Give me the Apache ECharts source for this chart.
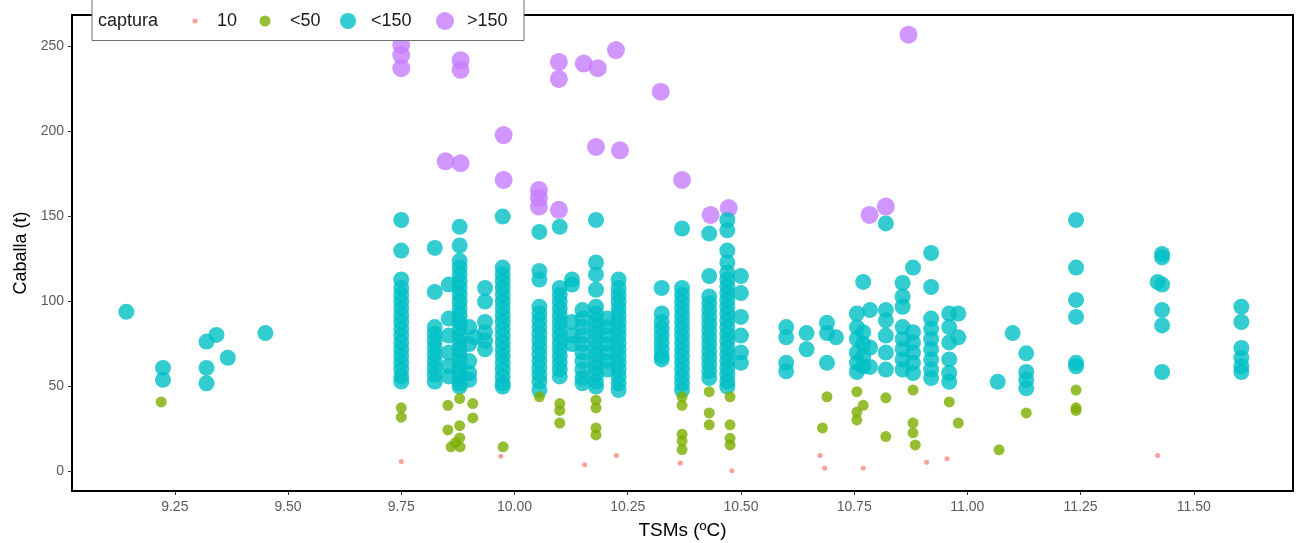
<!DOCTYPE html>
<html><head><meta charset="utf-8">
<script src="https://cdn.jsdelivr.net/npm/echarts@6/dist/echarts.min.js"></script>
<style>html,body{margin:0;padding:0;background:#fff}#c{width:1298px;height:543px}</style>
</head><body><div id="c"></div>
<script>
const categories = ['10', '<50', '<150', '>150'];
const xTicks = [9.25, 9.5, 9.75, 10.0, 10.25, 10.5, 10.75, 11.0, 11.25, 11.5];
const yTicks = [0, 50, 100, 150, 200, 250];

// captura = 10
const pts10 = [[9.75,6],[9.97,9],[10.155,4],[10.225,9.5],[10.366,5],[10.48,0.5],[10.675,9.5],[10.685,2],[10.77,2],[10.91,5.5],[10.955,7.5],[11.42,9.5]];

// captura < 50
const pts50 = [[9.22,41],[9.75,37.5],[9.75,32],
 [9.853,39],[9.879,43],[9.908,40],[9.908,31.6],[9.853,24.5],[9.879,27],[9.879,19.8],[9.86,14.6],[9.88,14.6],[9.87,17],
 [9.975,14.6],[10.055,44],[10.10,40],[10.10,36],[10.10,28.6],
 [10.18,42],[10.18,37.5],[10.18,25.7],[10.18,21.6],
 [10.37,44],[10.37,39],[10.37,22],[10.37,18],[10.37,13],
 [10.43,47],[10.43,34.5],[10.43,27.5],
 [10.476,44],[10.476,27.5],[10.476,19.6],[10.476,15.7],
 [10.69,44],[10.68,25.7],[10.756,47],[10.756,35],[10.756,30.4],[10.77,39],
 [10.82,43.4],[10.82,20.6],[10.88,48],[10.88,28.6],[10.88,22.8],[10.885,15.7],
 [10.96,41],[10.98,28.6],[11.07,12.8],[11.13,34.5],[11.24,48],[11.24,37.5],[11.24,36]];

// captura < 150
const pts150 = [[9.143,94],[9.224,61],[9.224,54],[9.32,76.5],[9.32,61],[9.32,52],[9.342,80.4],[9.367,67],[9.45,81.5],
 [9.75,148],[9.75,130],[9.75,113],[9.75,108],[9.75,104],[9.75,100],[9.75,96],[9.75,92],[9.75,88],[9.75,84],[9.75,80],[9.75,76],[9.75,72],[9.75,68],[9.75,64],[9.75,60],[9.75,56],[9.75,53],
 [9.824,131.6],[9.824,105.7],[9.824,85],[9.824,81],[9.824,77],[9.824,73],[9.824,69],[9.824,65],[9.824,61],[9.824,57],[9.824,53],
 [9.855,110],[9.855,90],[9.855,80],[9.855,70],[9.855,62],[9.855,56],
 [9.879,144],[9.879,133],[9.879,124],[9.879,120],[9.879,116],[9.879,112],[9.879,108],[9.879,104],[9.879,100],[9.879,96],[9.879,92],[9.879,88],[9.879,84],[9.879,80],[9.879,76],[9.879,72],[9.879,68],[9.879,64],[9.879,60],[9.879,56],[9.879,52],[9.879,50],
 [9.90,85],[9.90,75],[9.90,65],[9.90,58],[9.90,54],[9.912,79],
 [9.935,108],[9.935,100],[9.935,88],[9.935,82],[9.935,77],[9.935,72],
 [9.974,150],[9.974,120],[9.974,116],[9.974,112],[9.974,108],[9.974,104],[9.974,100],[9.974,96],[9.974,92],[9.974,88],[9.974,84],[9.974,80],[9.974,76],[9.974,72],[9.974,68],[9.974,64],[9.974,60],[9.974,56],[9.974,52],[9.974,50],
 [10.055,141],[10.055,118],[10.055,113],[10.055,97],[10.055,93],[10.055,89],[10.055,85],[10.055,81],[10.055,77],[10.055,73],[10.055,69],[10.055,65],[10.055,61],[10.055,57],[10.055,53],[10.055,48],
 [10.10,144],[10.10,108],[10.10,104],[10.10,100],[10.10,96],[10.10,92],[10.10,88],[10.10,84],[10.10,80],[10.10,76],[10.10,72],[10.10,68],[10.10,64],[10.10,60],[10.10,56],
 [10.127,113],[10.127,110],[10.127,88],[10.127,80],[10.127,75],
 [10.15,95],[10.15,90],[10.15,85],[10.15,80],[10.15,75],[10.15,70],[10.15,65],[10.15,60],[10.15,55],[10.15,52],
 [10.18,148],[10.18,123],[10.18,116],[10.18,107],[10.18,97],[10.18,93],[10.18,89],[10.18,85],[10.18,81],[10.18,77],[10.18,73],[10.18,69],[10.18,65],[10.18,61],[10.18,57],[10.18,53],[10.18,50],
 [10.205,90],[10.205,85],[10.205,80],[10.205,75],[10.205,70],[10.205,65],[10.205,60],
 [10.23,113],[10.23,108],[10.23,104],[10.23,100],[10.23,96],[10.23,92],[10.23,88],[10.23,84],[10.23,80],[10.23,76],[10.23,72],[10.23,68],[10.23,64],[10.23,60],[10.23,56],[10.23,52],[10.23,48],
 [10.325,108],[10.325,93],[10.325,88],[10.325,84],[10.325,80],[10.325,76],[10.325,72],[10.325,68],[10.325,66],
 [10.37,143],[10.37,108],[10.37,104],[10.37,100],[10.37,96],[10.37,92],[10.37,88],[10.37,84],[10.37,80],[10.37,76],[10.37,72],[10.37,68],[10.37,64],[10.37,60],[10.37,56],[10.37,52],[10.37,48],
 [10.43,140],[10.43,115],[10.43,103],[10.43,99],[10.43,95],[10.43,91],[10.43,87],[10.43,83],[10.43,79],[10.43,75],[10.43,71],[10.43,67],[10.43,63],[10.43,59],[10.43,55],
 [10.47,148],[10.47,142],[10.47,130],[10.47,123],[10.47,117],[10.47,113],[10.47,109],[10.47,105],[10.47,101],[10.47,97],[10.47,93],[10.47,89],[10.47,85],[10.47,81],[10.47,77],[10.47,73],[10.47,69],[10.47,65],[10.47,61],[10.47,57],[10.47,53],[10.47,50],
 [10.50,115],[10.50,105],[10.50,91],[10.50,80],[10.50,70],[10.50,64],
 [10.60,85],[10.60,79],[10.60,64],[10.60,59],[10.645,81.5],[10.645,72],
 [10.69,87.5],[10.69,81.5],[10.69,64],[10.71,79],
 [10.756,93],[10.756,85],[10.756,78],[10.756,70],[10.756,64],[10.756,58.6],
 [10.77,111.6],[10.77,82],[10.77,75],[10.77,68],[10.77,62],[10.785,95],[10.785,73],[10.785,61.6],
 [10.82,146],[10.82,95],[10.82,89],[10.82,80],[10.82,70],[10.82,60],
 [10.857,111],[10.857,103],[10.857,97],[10.857,85],[10.857,78],[10.857,72],[10.857,66],[10.857,60],
 [10.88,120],[10.88,82],[10.88,76],[10.88,70],[10.88,64],[10.88,58],
 [10.92,128.6],[10.92,108.6],[10.92,90],[10.92,84],[10.92,78],[10.92,72],[10.92,66],[10.92,60],[10.92,55],
 [10.96,93],[10.96,85],[10.96,76],[10.96,66],[10.96,58],[10.96,52.8],[10.98,93],[10.98,79],
 [11.067,52.8],[11.10,81.5],[11.13,69.6],[11.13,58.6],[11.13,54],[11.13,49],
 [11.24,148],[11.24,120],[11.24,101],[11.24,91],[11.24,64],[11.24,62],
 [11.42,111.5],[11.43,128],[11.43,126],[11.43,110],[11.43,95],[11.43,86],[11.43,58.6],
 [11.605,97],[11.605,88],[11.605,72.7],[11.605,67],[11.605,62],[11.605,58.6]];

// captura > 150
const ptsOver = [[9.75,251],[9.75,245],[9.75,237.3],[9.881,242],[9.881,236.3],
 [10.098,241],[10.098,231],[10.153,240],[10.184,237.3],[10.224,248],[10.323,223.5],[10.87,257],
 [9.976,198],[9.848,182.5],[9.881,181.4],[10.18,191],[10.233,189],[9.976,171.6],[10.37,171.6],
 [10.054,165.7],[10.054,160.9],[10.054,155.9],[10.098,154],[10.433,151],[10.473,155],[10.784,151],[10.82,155.9]];

const colors = ['#F8766D', '#7CAE00', '#00BFC4', '#C77CFF'];
const sizes = [5, 11, 16, 18];
const FONT = '"Liberation Sans", Arial, sans-serif';

const chart = echarts.init(document.getElementById('c'), null, {renderer: 'canvas'});

const dataSets = [pts10, pts50, pts150, ptsOver];
const drawOrder = [3, 2, 1, 0];
const series = drawOrder.map(i => ({
  name: categories[i], type: 'scatter', data: dataSets[i],
  symbol: 'circle', symbolSize: sizes[i], z: 2 + (3 - i),
  itemStyle: {color: colors[i], opacity: i === 0 ? 0.7 : 0.8},
  emphasis: {disabled: true}
}));

const legendLefts = [192.5, 259.5, 340, 436];
const textPads = [14.5, 14.5, 10, 8];
const legends = categories.map((c, i) => ({
  data: [{name: c, icon: 'circle'}],
  left: legendLefts[i], top: 11, padding: 0,
  itemWidth: sizes[i], itemHeight: sizes[i], z: 12,
  selectedMode: false,
  textStyle: {fontFamily: FONT, fontSize: 18, color: '#1a1a1a', lineHeight: 20, padding: [0, 0, 0, textPads[i]]}
}));

chart.setOption({
  animation: false,
  backgroundColor: '#fff',
  grid: {left: 72, right: 5, top: 15, bottom: 52, show: true, borderColor: '#000', borderWidth: 2,
         containLabel: false, outerBoundsMode: 'none'},
  legend: legends,
  graphic: [
    {type: 'rect', z: 10, shape: {x: 92, y: -5, width: 432, height: 45.5}, style: {fill: '#fff', stroke: '#6e6e6e', lineWidth: 1}},
    {type: 'text', z: 11, x: 98, y: 21, style: {text: 'captura', font: '18px ' + FONT, fill: '#1a1a1a', textVerticalAlign: 'middle'}}
  ],
  xAxis: {
    type: 'value', min: 9.023, max: 11.719,
    name: 'TSMs (ºC)', nameLocation: 'middle', nameGap: 30,
    nameTextStyle: {fontFamily: FONT, fontSize: 19, color: '#000'},
    axisLine: {show: true, onZero: false, lineStyle: {color: '#000', width: 2}},
    axisTick: {show: true, customValues: xTicks, length: 4, lineStyle: {color: '#333'}},
    axisLabel: {customValues: xTicks, margin: 9, fontFamily: FONT, fontSize: 14, color: '#5a5a5a', formatter: v => v.toFixed(2)},
    splitLine: {show: false}
  },
  yAxis: {
    type: 'value', min: -11.4, max: 268.6,
    name: 'Caballa (t)', nameLocation: 'middle', nameGap: 42, nameRotate: 90,
    nameTextStyle: {fontFamily: FONT, fontSize: 18, color: '#000'},
    axisLine: {show: true, onZero: false, lineStyle: {color: '#000', width: 2}},
    axisTick: {show: true, customValues: yTicks, length: 4, lineStyle: {color: '#333'}},
    axisLabel: {customValues: yTicks, margin: 8, fontFamily: FONT, fontSize: 14, color: '#5a5a5a'},
    splitLine: {show: false}
  },
  series: series
});
</script>
</body></html>
